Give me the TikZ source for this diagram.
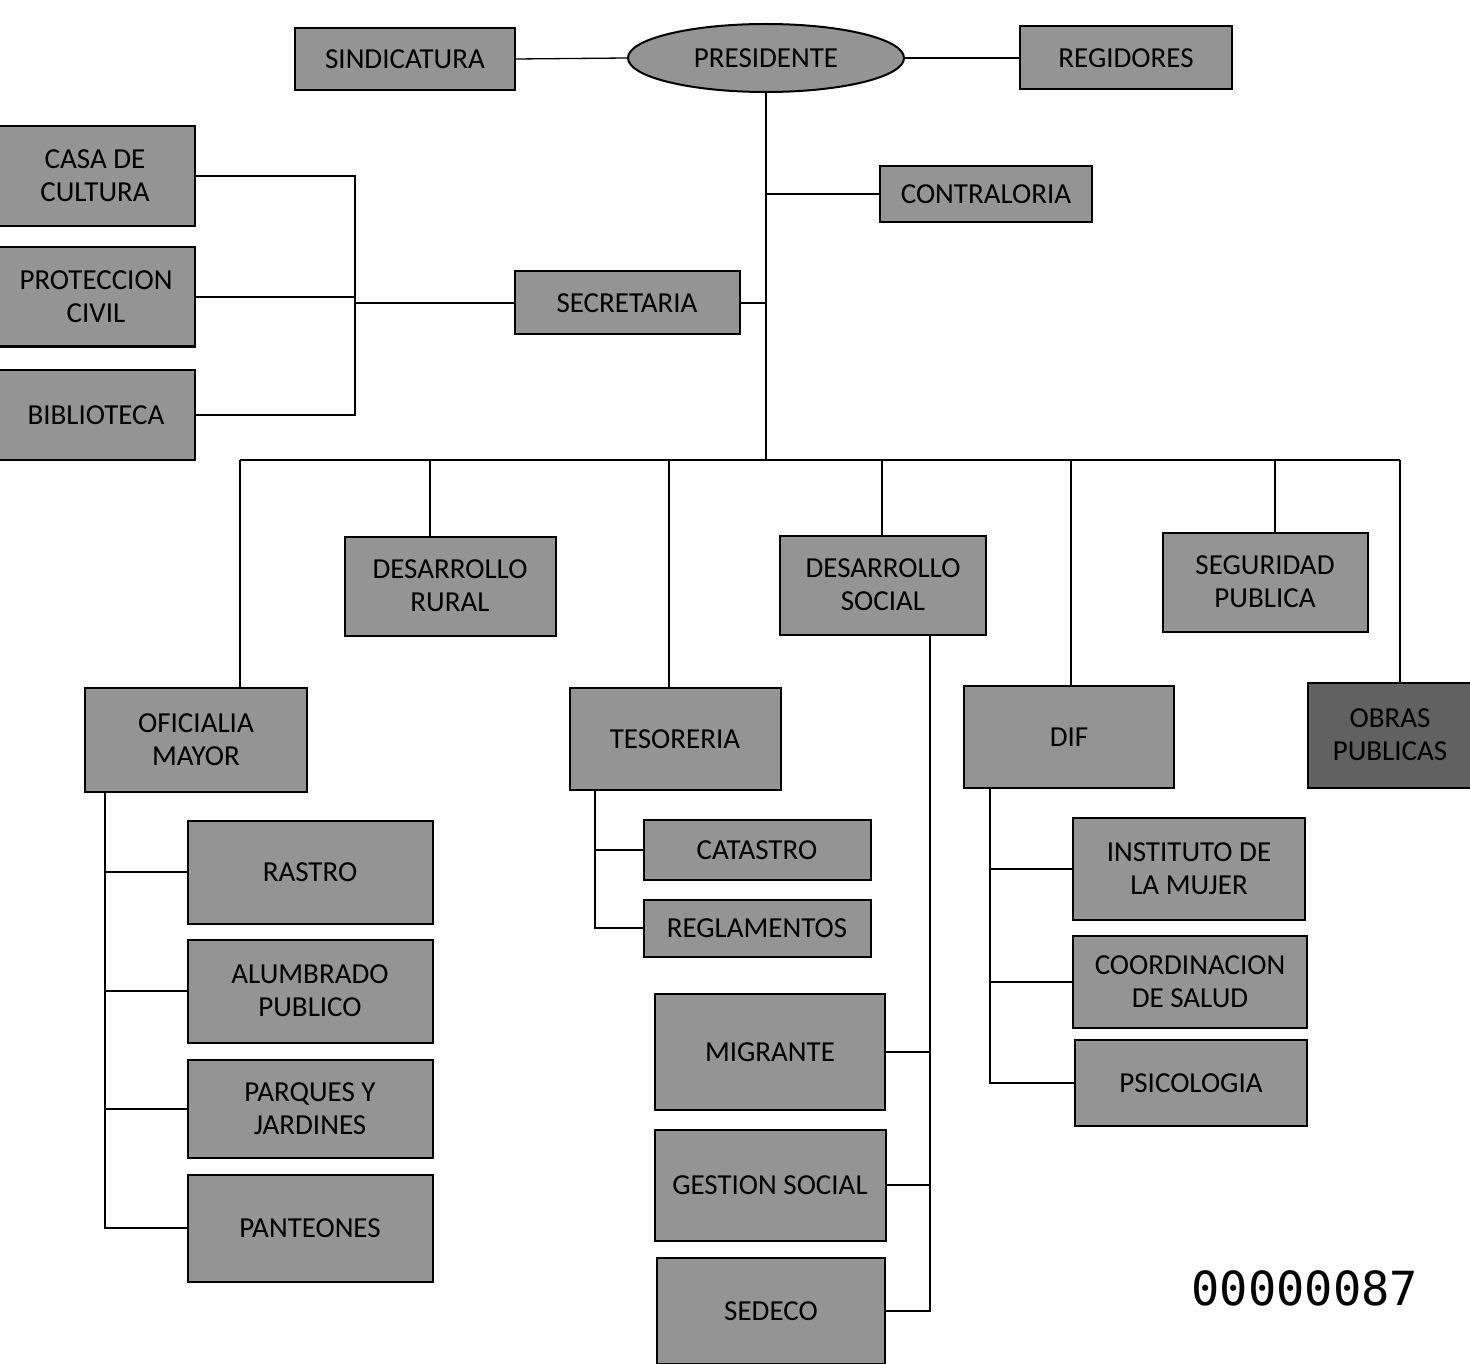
\documentclass[tikz,border=0pt]{standalone}
\usepackage{fontspec}
\setmainfont{Carlito}
\newfontfamily\stampfont{DejaVu Sans Mono}
\usetikzlibrary{shapes.geometric}

\definecolor{boxgray}{gray}{0.58}
\definecolor{darkgray}{gray}{0.38}

\tikzset{
  unit/.style={draw, line width=2pt, fill=boxgray, align=center, inner sep=0pt,
    font=\fontsize{29}{33}\selectfont},
  link/.style={line width=1.3pt}
}

\begin{document}
\begin{tikzpicture}[x=1pt,y=-1pt]
  \useasboundingbox (0,0) rectangle (1470,1364);

  % head
  \node[unit, ellipse, minimum width=276, minimum height=68] (pres) at (766,58) {PRESIDENTE};

  % boxes: name/x/y/width/height/text
  \foreach \n/\x/\y/\w/\h/\t in {
      sind/405/59/220/62/{SINDICATURA},
      regi/1126/58/212/63/{REGIDORES},
      contr/986/194/212/56/{CONTRALORIA},
      secr/627/303/225/63/{SECRETARIA},
      casa/95/176/200/100/{CASA DE\\CULTURA},
      prot/96/297/198/99/{PROTECCION\\CIVIL},
      bibl/96/415/198/90/{BIBLIOTECA},
      rural/450/586/211/99/{DESARROLLO\\RURAL},
      dsoc/883/585/206/99/{DESARROLLO\\SOCIAL},
      segu/1265/582/205/99/{SEGURIDAD\\PUBLICA},
      ofic/196/740/222/104/{OFICIALIA\\MAYOR},
      teso/675/739/211/102/{TESORERIA},
      dif/1069/737/210/102/{DIF},
      rast/310/872/245/103/{RASTRO},
      alum/310/991/245/103/{ALUMBRADO\\PUBLICO},
      parq/310/1109/245/98/{PARQUES Y\\JARDINES},
      pant/310/1228/245/107/{PANTEONES},
      cata/757/850/227/60/{CATASTRO},
      regl/757/928/227/57/{REGLAMENTOS},
      migr/770/1052/230/116/{MIGRANTE},
      gest/770/1185/231/111/{GESTION SOCIAL},
      sede/771/1311/228/106/{SEDECO},
      inst/1189/869/232/102/{INSTITUTO DE\\LA MUJER},
      coor/1190/982/234/92/{COORDINACION\\DE SALUD},
      psic/1191/1083/232/86/{PSICOLOGIA}} {
    \node[unit, minimum width=\w, minimum height=\h] (\n) at (\x,\y) {\t};
  }
  \node[unit, fill=darkgray, minimum width=164, minimum height=105] (obras) at (1390,735) {OBRAS\\PUBLICAS};

  % top level
  \draw[link] (sind.east) -- (pres.west);
  \draw[link] (pres.east) -- (regi.west);
  \coordinate (tofic) at (240,460);
  \draw[link] (pres.south) -- (pres.south |- tofic);
  \draw[link] (contr.west) -- (contr.west -| pres.south);
  \draw[link] (secr.east) -- (secr.east -| pres.south);

  % secretaria
  \coordinate (sbr) at (355,303);
  \draw[link] (secr.west) -- (sbr);
  \draw[link] (casa.east) -| (sbr) |- (bibl.east);
  \draw[link] (prot.east) -- (prot.east -| sbr);

  % bus
  \foreach \n/\x in {rural/430, teso/669, dsoc/882, dif/1071, segu/1275, obras/1400}
    \coordinate (t\n) at (\x,460);
  \draw[link] (tofic) -- (tobras);
  \foreach \n in {ofic, rural, teso, dsoc, dif, segu, obras}
    \draw[link] (t\n) -- (t\n |- \n.north);

  % oficialia mayor
  \coordinate (obr) at (105,792);
  \draw[link] (obr) |- (pant.west);
  \foreach \n in {rast, alum, parq}
    \draw[link] (\n.west -| obr) -- (\n.west);

  % tesoreria
  \coordinate (tbr) at (595,790);
  \draw[link] (tbr) |- (regl.west);
  \draw[link] (cata.west -| tbr) -- (cata.west);

  % desarrollo social
  \coordinate (dbr) at (930,634);
  \draw[link] (dbr) |- (sede.east);
  \foreach \n in {migr, gest}
    \draw[link] (\n.east) -- (\n.east -| dbr);

  % dif
  \coordinate (fbr) at (990,788);
  \draw[link] (fbr) |- (psic.west);
  \foreach \n in {inst, coor}
    \draw[link] (\n.west -| fbr) -- (\n.west);

  \node[font=\stampfont\fontsize{47}{50}\selectfont, anchor=west] (folio) at (1188,1288) {00000087};
\end{tikzpicture}
\end{document}
